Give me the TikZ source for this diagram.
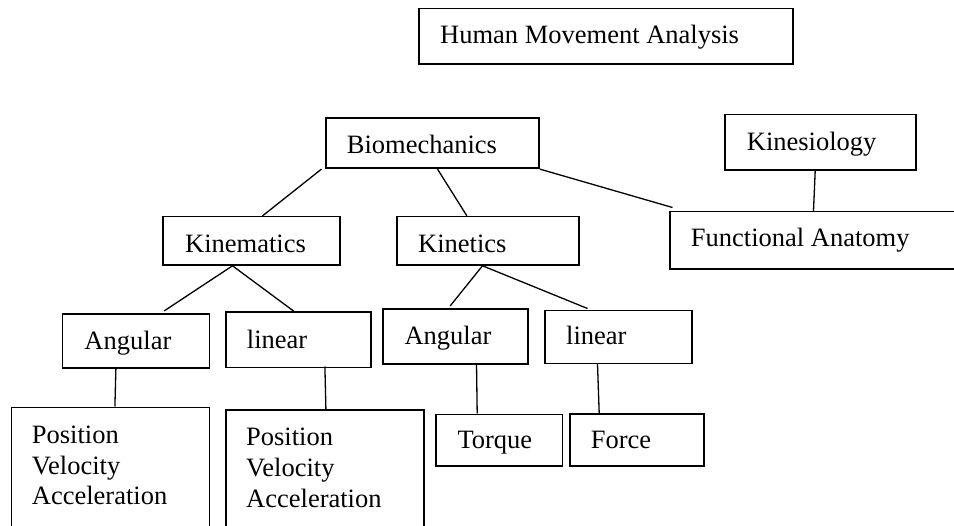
\documentclass[tikz,border=0pt]{standalone}
\usepackage{fontspec}
\setmainfont{Liberation Serif}
\newcommand\mainsz{\fontsize{26.5bp}{30.7bp}\selectfont}
\begin{document}
\begin{tikzpicture}[x=1bp,y=-1bp,
  box/.style={draw, line width=1.6bp, inner sep=0pt},
  lbl/.style={anchor=base west, inner sep=0pt, font=\mainsz},
  conn/.style={line width=1.3bp}]
\useasboundingbox (0,0) rectangle (954,526);
\clip (0,0) rectangle (954,526);
% boxes
\node[box, minimum width=373.7bp, minimum height=55.7bp] (hma) at (605.9,36.2) {};
\node[box, minimum width=213.3bp, minimum height=50bp] (bio) at (432.35,143.3) {};
\node[box, minimum width=191bp, minimum height=55.7bp] (kines) at (820.5,142.2) {};
\node[box, minimum width=177.3bp, minimum height=48.3bp] (kinem) at (251.35,240.85) {};
\node[box, minimum width=182.3bp, minimum height=48.3bp] (kinet) at (487.85,240.85) {};
\node[box, minimum width=290bp, minimum height=57.3bp] (fa) at (815,240.35) {};
\node[box, minimum width=146.6bp, minimum height=53.4bp] (ang1) at (136,341) {};
\node[box, minimum width=144.7bp, minimum height=55bp] (lin1) at (298.35,339.8) {};
\node[box, minimum width=145bp, minimum height=54.7bp] (ang2) at (455.2,336.65) {};
\node[box, minimum width=146.7bp, minimum height=52.6bp] (lin2) at (618.35,337) {};
\node[box, minimum width=126.6bp, minimum height=51.4bp] (torque) at (499,440) {};
\node[box, minimum width=134bp, minimum height=51.7bp] (force) at (637,439.85) {};
\node[box, minimum width=197.6bp, minimum height=132.7bp] (pos1) at (110.5,473.65) {};
\node[box, minimum width=198bp, minimum height=130bp] (pos2) at (325,475) {};
% labels
\node[lbl] (thma) at (440,43.3) {Human Movement Analysis};
\node[lbl] (tbio) at (346.7,154) {Biomechanics};
\node[lbl] (tkines) at (746.7,151) {Kinesiology};
\node[lbl] (tkinem) at (185,252.7) {Kinematics};
\node[lbl] (tkinet) at (418,252.7) {Kinetics};
\node[lbl] (tfa) at (690.7,246.7) {Functional Anatomy};
\node[lbl] (tang1) at (84.3,350) {Angular};
\node[lbl] (tlin1) at (246.7,348.3) {linear};
\node[lbl] (tang2) at (404.3,345) {Angular};
\node[lbl] (tlin2) at (566,345) {linear};
\node[lbl] (ttorque) at (457.3,448.3) {Torque};
\node[lbl] (tforce) at (590.7,448.3) {Force};
\node[lbl] (tpos1) at (31.7,443.3) {\begin{tabular}[t]{@{}l@{}}Position\\Velocity\\Acceleration\end{tabular}};
\node[lbl] (tpos2) at (246,445.7) {\begin{tabular}[t]{@{}l@{}}Position\\Velocity\\Acceleration\end{tabular}};
% connectors
\draw[conn] ([xshift=-3.4bp]bio.south west) -- ([xshift=100.6bp]kinem.north west);
\draw[conn] ([xshift=112.6bp]bio.south west) -- ([xshift=71bp]kinet.north west);
\draw[conn] (bio.south east) -- ([shift={(3.3bp,3.4bp)}]fa.north west);
\draw[conn] ([xshift=91bp]kines.south west) -- ([xshift=144.3bp]fa.north west);
\draw[conn] ([xshift=70.6bp]kinem.south west) -- ([shift={(102.3bp,2.6bp)}]ang1.north west);
\draw[conn] ([xshift=70.6bp]kinem.south west) -- ([xshift=69bp]lin1.north west);
\draw[conn] ([xshift=86.6bp]kinet.south west) -- ([shift={(68.3bp,2.6bp)}]ang2.north west);
\draw[conn] ([xshift=86.6bp]kinet.south west) -- ([shift={(43.3bp,1.4bp)}]lin2.north west);
\draw[conn] ([xshift=54bp]ang1.south west) -- ([xshift=104bp]pos1.north west);
\draw[conn] ([shift={(99.7bp,1.6bp)}]lin1.south west) -- ([xshift=100.7bp]pos2.north west);
\draw[conn] ([shift={(94.6bp,1.7bp)}]ang2.south west) -- ([xshift=42.3bp]torque.north west);
\draw[conn] ([xshift=53.3bp]lin2.south west) -- ([xshift=30bp]force.north west);
\end{tikzpicture}
\end{document}
